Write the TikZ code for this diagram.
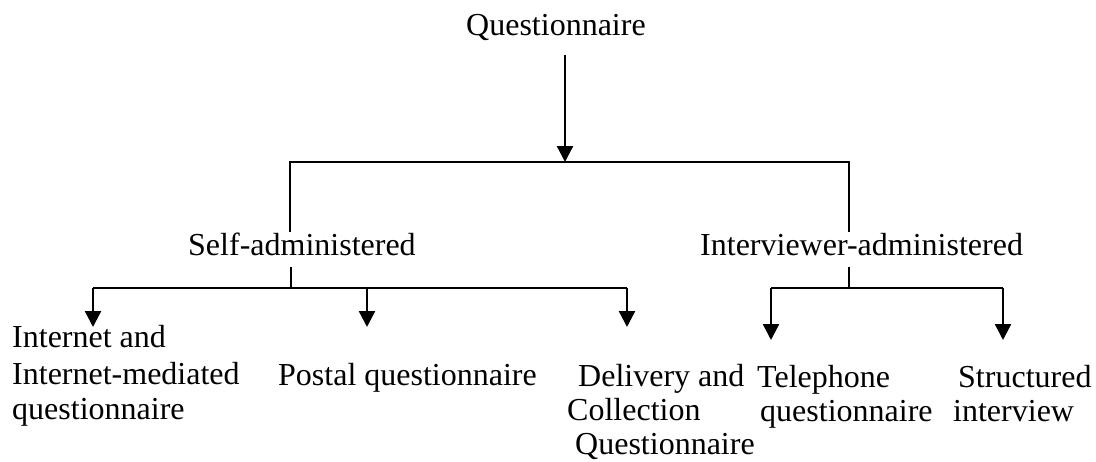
\documentclass[tikz,border=0pt]{standalone}
\usepackage{fontspec}
\setmainfont{Liberation Serif}
\usetikzlibrary{arrows.meta}
\begin{document}
\begin{tikzpicture}[x=1pt,y=-1pt,
  lbl/.style={anchor=base west,inner sep=0pt,font=\fontsize{32}{35}\selectfont},
  conn/.style={line width=2pt},
  arr/.style={line width=2.4pt,-{Triangle[width=16pt,length=16pt]}}]
\useasboundingbox (0,0) rectangle (1096,461);
% texts
\node[lbl] (q) at (466,35) {Questionnaire};
\node[lbl] (self) at (188,255) {Self-administered};
\node[lbl] (inter) at (700,255) {Interviewer-administered};
\node[lbl] (int1) at (12,347) {Internet and};
\node[lbl] (int2) at (12,384) {Internet-mediated};
\node[lbl] (int3) at (12,419) {questionnaire};
\node[lbl] (post) at (278,385) {Postal questionnaire};
\node[lbl] (del1) at (578,386) {Delivery and};
\node[lbl] (del2) at (567,420) {Collection};
\node[lbl] (del3) at (575,454) {Questionnaire};
\node[lbl] (tel1) at (757,387) {Telephone};
\node[lbl] (tel2) at (760,421) {questionnaire};
\node[lbl] (str1) at (958,387) {Structured};
\node[lbl] (str2) at (953,421) {interview};
% junction coordinates
\coordinate (qa) at (565,55);
\coordinate (qb) at (565,162);
\coordinate (tl) at (290,162);
\coordinate (tr) at (849,162);
\coordinate (sl) at (290,232);
\coordinate (ir) at (849,232);
\coordinate (ss) at (291,267);
\coordinate (sj) at (291,288);
\coordinate (is) at (849,267);
\coordinate (ij) at (849,288);
\coordinate (a1) at (93,288);
\coordinate (a2) at (367,288);
\coordinate (a3) at (627,288);
\coordinate (b1) at (771,288);
\coordinate (b2) at (1003,288);
\coordinate (t1) at (93,327);
\coordinate (t2) at (367,327);
\coordinate (t3) at (627,327);
\coordinate (u1) at (771,340);
\coordinate (u2) at (1003,340);
% connectors
\draw[arr] (qa) -- (qb);
\draw[conn] (sl) -- (tl) -- (tr) -- (ir);
\draw[conn] (ss) -- (sj);
\draw[conn] (a1) -- (a3);
\draw[arr] (a1) -- (t1);
\draw[arr] (a2) -- (t2);
\draw[arr] (a3) -- (t3);
\draw[conn] (is) -- (ij);
\draw[conn] (b1) -- (b2);
\draw[arr] (b1) -- (u1);
\draw[arr] (b2) -- (u2);
\end{tikzpicture}
\end{document}
